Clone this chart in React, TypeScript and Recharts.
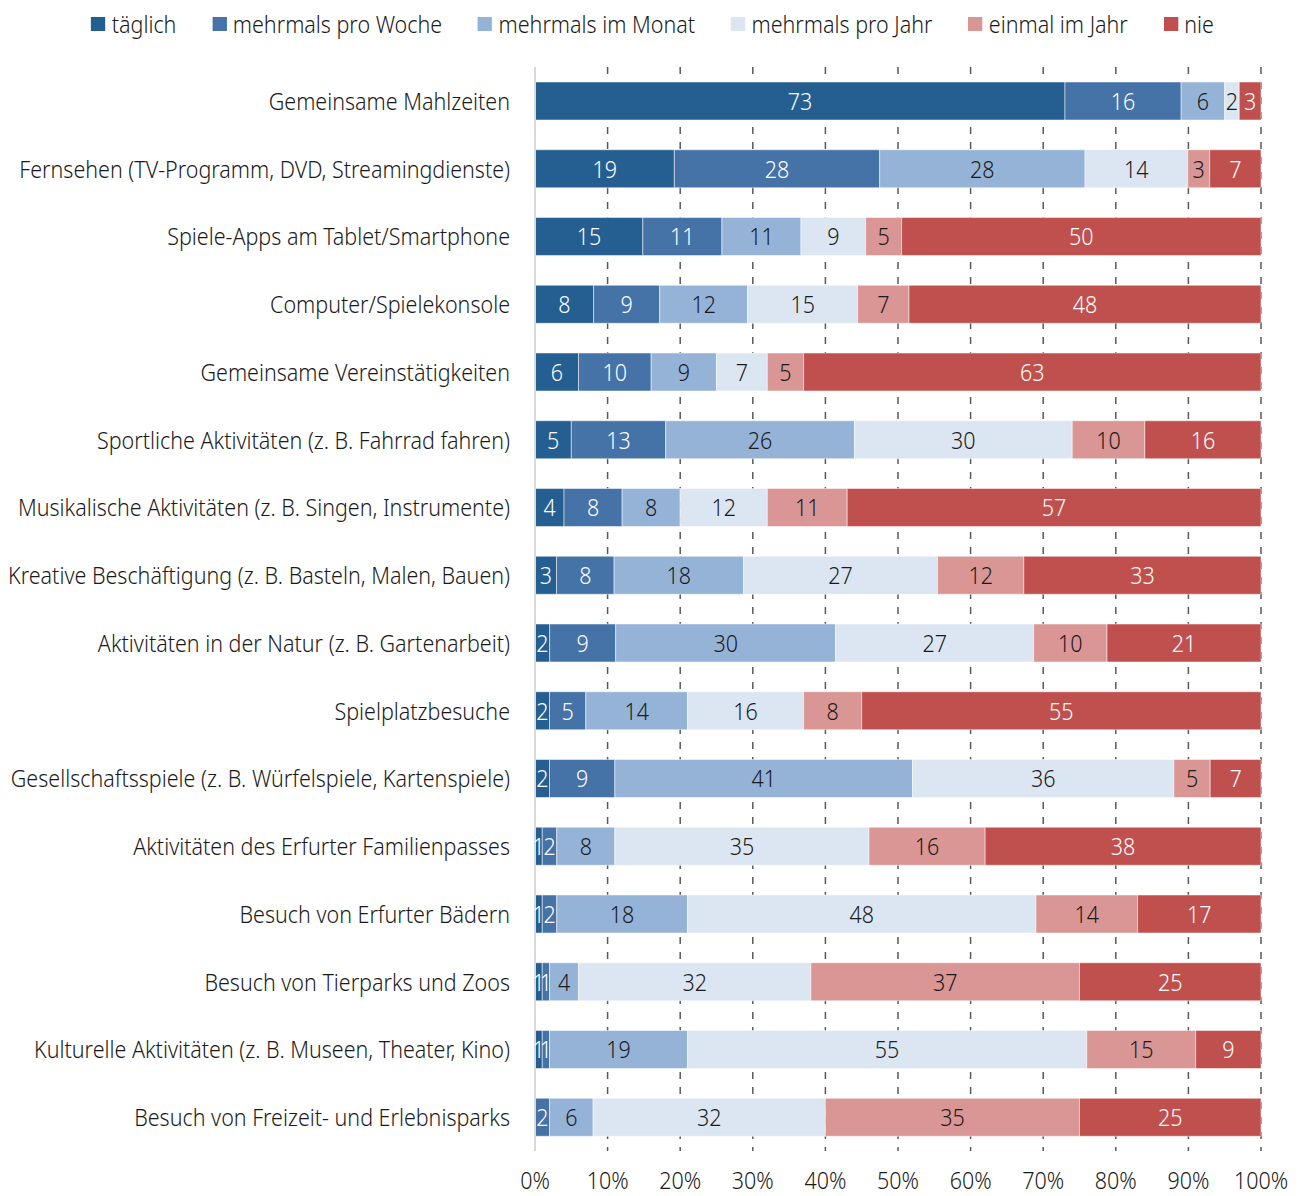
import { Bar, BarChart, CartesianGrid, LabelList, XAxis, YAxis } from "recharts";

const categories = [
  "Gemeinsame Mahlzeiten",
  "Fernsehen (TV-Programm, DVD, Streamingdienste)",
  "Spiele-Apps am Tablet/Smartphone",
  "Computer/Spielekonsole",
  "Gemeinsame Vereinstätigkeiten",
  "Sportliche Aktivitäten (z. B. Fahrrad fahren)",
  "Musikalische Aktivitäten (z. B. Singen, Instrumente)",
  "Kreative Beschäftigung (z. B. Basteln, Malen, Bauen)",
  "Aktivitäten in der Natur (z. B. Gartenarbeit)",
  "Spielplatzbesuche",
  "Gesellschaftsspiele (z. B. Würfelspiele, Kartenspiele)",
  "Aktivitäten des Erfurter Familienpasses",
  "Besuch von Erfurter Bädern",
  "Besuch von Tierparks und Zoos",
  "Kulturelle Aktivitäten (z. B. Museen, Theater, Kino)",
  "Besuch von Freizeit- und Erlebnisparks",
];

const taeglich = [73, 19, 15, 8, 6, 5, 4, 3, 2, 2, 2, 1, 1, 1, 1, 0];
const proWoche = [16, 28, 11, 9, 10, 13, 8, 8, 9, 5, 9, 2, 2, 1, 1, 2];
const imMonat = [6, 28, 11, 12, 9, 26, 8, 18, 30, 14, 41, 8, 18, 4, 19, 6];
const proJahr = [2, 14, 9, 15, 7, 30, 12, 27, 27, 16, 36, 35, 48, 32, 55, 32];
const einmalImJahr = [0, 3, 5, 7, 5, 10, 11, 12, 10, 8, 5, 16, 14, 37, 15, 35];
const nie = [3, 7, 50, 48, 63, 16, 57, 33, 21, 55, 7, 38, 17, 25, 9, 25];

const xTicks = [0, 0.1, 0.2, 0.3, 0.4, 0.5, 0.6, 0.7, 0.8, 0.9, 1];

const series = [
  { key: "taeglich", name: "täglich", values: taeglich, color: "#255E91", text: "#ffffff" },
  { key: "proWoche", name: "mehrmals pro Woche", values: proWoche, color: "#4572A7", text: "#ffffff" },
  { key: "imMonat", name: "mehrmals im Monat", values: imMonat, color: "#95B3D7", text: "#1a1a1a" },
  { key: "proJahr", name: "mehrmals pro Jahr", values: proJahr, color: "#DCE6F2", text: "#1a1a1a" },
  { key: "einmal", name: "einmal im Jahr", values: einmalImJahr, color: "#D99694", text: "#1a1a1a" },
  { key: "nie", name: "nie", values: nie, color: "#C0504D", text: "#ffffff" },
];

const data = categories.map((name, i) => {
  const row: Record<string, string | number> = { name };
  series.forEach((s) => {
    row[s.key] = s.values[i];
  });
  return row;
});

// no condensed face is installed, so the text is squeezed horizontally
const FONT = "'Noto Sans', sans-serif";
const SQUEEZE = 0.895;

function CondensedText(props: any) {
  const { x, y, anchor, fill, size, children } = props;
  return (
    <text
      transform={`translate(${x},${y}) scale(${SQUEEZE},1)`}
      textAnchor={anchor}
      dominantBaseline="central"
      fill={fill}
      fontSize={size}
      fontFamily={FONT}
      fontWeight={300}
    >
      {children}
    </text>
  );
}

function segmentLabel(color: string) {
  return (props: any) => {
    const { x, y, width, height, value } = props;
    if (!value) return null;
    return (
      <CondensedText
        x={Number(x) + Number(width) / 2}
        y={Number(y) + Number(height) / 2}
        anchor="middle"
        fill={color}
        size={24}
      >
        {value}
      </CondensedText>
    );
  };
}

function CategoryTick(props: any) {
  const { x, y, payload } = props;
  return (
    <CondensedText x={x} y={y} anchor="end" fill="#1a1a1a" size={24}>
      {payload.value}
    </CondensedText>
  );
}

function PercentTick(props: any) {
  const { x, y, payload } = props;
  return (
    <CondensedText x={x} y={y + 17} anchor="middle" fill="#1a1a1a" size={24}>
      {`${Math.round(payload.value * 100)}%`}
    </CondensedText>
  );
}

export default function App() {
  return (
    <div style={{ position: "absolute", top: 0, left: 0, width: 1305, height: 1196, background: "#fff" }}>
      <div
        style={{
          position: "absolute",
          top: 7,
          left: 0,
          width: 1305,
          display: "flex",
          justifyContent: "center",
          fontFamily: FONT,
          fontWeight: 300,
          fontSize: 24,
          color: "#1a1a1a",
          transform: `scaleX(${SQUEEZE})`,
          transformOrigin: "center",
        }}
      >
        {series.map((s, i) => (
          <div
            key={s.key}
            style={{ display: "flex", alignItems: "center", marginRight: i < series.length - 1 ? 40 : 0 }}
          >
            <span style={{ width: 16, height: 14, background: s.color, marginRight: 7, display: "inline-block" }} />
            <span>{s.name}</span>
          </div>
        ))}
      </div>
      <BarChart
        width={1305}
        height={1196}
        data={data}
        layout="vertical"
        stackOffset="expand"
        barSize={38}
        margin={{ top: 67, right: 44, bottom: 5, left: 0 }}
      >
        <CartesianGrid horizontal={false} stroke="#595959" strokeWidth={1.5} strokeDasharray="7 8" />
        <XAxis
          type="number"
          domain={[0, 1]}
          ticks={xTicks}
          axisLine={false}
          tickLine={false}
          tickSize={0}
          tickMargin={12}
          height={40}
          tick={<PercentTick />}
        />
        <YAxis
          type="category"
          dataKey="name"
          width={535}
          axisLine={{ stroke: "#d9d9d9", strokeWidth: 2 }}
          tickLine={false}
          tickSize={0}
          tickMargin={25}
          interval={0}
          tick={<CategoryTick />}
        />
        {series.map((s) => (
          <Bar
            key={s.key}
            dataKey={s.key}
            name={s.name}
            stackId="a"
            fill={s.color}
            stroke="#ffffff"
            strokeWidth={0.5}
            isAnimationActive={false}
          >
            <LabelList dataKey={s.key} content={segmentLabel(s.text)} />
          </Bar>
        ))}
      </BarChart>
    </div>
  );
}
